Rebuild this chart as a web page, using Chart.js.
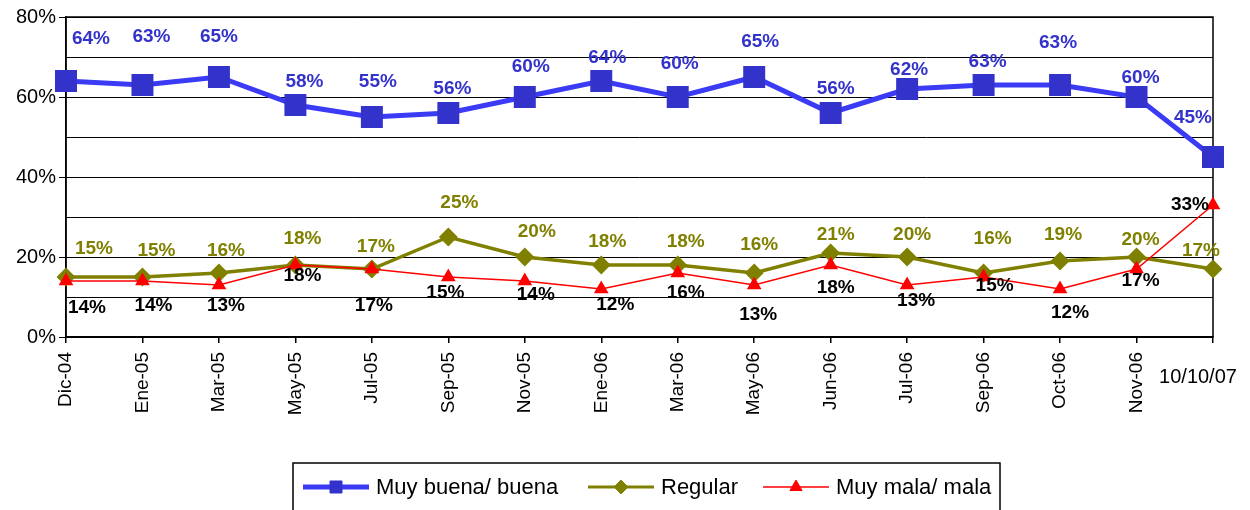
<!DOCTYPE html>
<html>
<head>
<meta charset="utf-8">
<script src="https://cdn.jsdelivr.net/npm/chart.js@4.4.1/dist/chart.umd.min.js"></script>
<style>
  body { margin: 0; background: #fff; }
</style>
</head>
<body>
<canvas id="lineChart" width="1250" height="510"></canvas>
<script>
// categories
const fechas = ["Dic-04", "Ene-05", "Mar-05", "May-05", "Jul-05", "Sep-05", "Nov-05", "Ene-06",
    "Mar-06", "May-06", "Jun-06", "Jul-06", "Sep-06", "Oct-06", "Nov-06", "10/10/07"]

// series values (%)
const muyBuena = [64, 63, 65, 58, 55, 56, 60, 64, 60, 65, 56, 62, 63, 63, 60, 45]
const regular = [15, 15, 16, 18, 17, 25, 20, 18, 18, 16, 21, 20, 16, 19, 20, 17]
const muyMala = [14, 14, 13, 18, 17, 15, 14, 12, 16, 13, 18, 13, 15, 12, 17, 33]

// y tick labels
const yTicks = [0, 20, 40, 60, 80]

// label nudges (px from the point), like excel placed them
const dxBuena = [25, 9, 0, 9, 6, 4, 6, 6, 2, 6, 5, 2, 4, -2, 4, -20]
const dyBuena = [-42, -48, -40, -23, -35, -24, -30, -23, -33, -35, -24, -19, -23, -42, -19, -39]
const dxRegular = [28, 14, 7, 7, 4, 11, 12, 6, 8, 5, 5, 5, 9, 3, 4, -12]
const dyRegular = [-28, -26, -22, -26, -22, -34, -25, -23, -23, -28, -18, -22, -34, -26, -17, -18]
const dxMala = [21, 11, 7, 7, 2, -3, 11, 14, 8, 4, 5, 9, 11, 10, 4, -23]
const dyMala = [27, 25, 21, 11, 37, 16, 14, 16, 20, 30, 23, 16, 9, 24, 12, 0]

const FONT = "'Liberation Sans', Arial, sans-serif"

const valueLabels = {
    id: 'valueLabels',
    afterDatasetsDraw(chart) {
        const ctx = chart.ctx
        const nudges = [[dxBuena, dyBuena], [dxRegular, dyRegular], [dxMala, dyMala]]
        const colors = ["#3333CC", "#808000", "#000000"]
        ctx.save()
        ctx.font = "bold 19px " + FONT
        ctx.textAlign = "center"
        ctx.textBaseline = "middle"
        chart.data.datasets.forEach((ds, i) => {
            const meta = chart.getDatasetMeta(i)
            ctx.fillStyle = colors[i]
            meta.data.forEach((pt, j) => {
                ctx.fillText(ds.data[j] + "%", pt.x + nudges[i][0][j], pt.y + nudges[i][1][j])
            })
        })
        ctx.restore()
    }
}

const frame = {
    id: 'frame',
    beforeDatasetsDraw(chart) {
        const {ctx, chartArea: a} = chart
        ctx.save()
        ctx.strokeStyle = "#000"
        ctx.lineWidth = 1.5
        ctx.strokeRect(a.left, a.top, a.right - a.left, a.bottom - a.top)
        ctx.restore()
    },
    afterDraw(chart) {
        const ctx = chart.ctx
        const xs = chart.scales.x
        ctx.save()
        // last category is written flat, like the original
        ctx.fillStyle = "#000"
        ctx.font = "20px " + FONT
        ctx.textAlign = "center"
        ctx.textBaseline = "middle"
        ctx.fillText(fechas[fechas.length - 1], xs.getPixelForValue(fechas.length - 1) - 15, 377)

        // legend
        ctx.strokeStyle = "#000"
        ctx.lineWidth = 1.5
        ctx.strokeRect(293, 463, 707, 60)
        const items = [
            {x: 303, color: "#3b3bf5", mark: "#3333CC", lw: 5, style: "rect", r: 8.5, text: "Muy buena/ buena"},
            {x: 588, color: "#808000", mark: "#808000", lw: 3, style: "rectRot", r: 7, text: "Regular"},
            {x: 763, color: "#FF0000", mark: "#FF0000", lw: 1.5, style: "triangle", r: 7, text: "Muy mala/ mala"}
        ]
        const y = 487
        ctx.font = "22px " + FONT
        ctx.textAlign = "left"
        items.forEach(it => {
            ctx.strokeStyle = it.color
            ctx.lineWidth = it.lw
            ctx.beginPath()
            ctx.moveTo(it.x, y)
            ctx.lineTo(it.x + 66, y)
            ctx.stroke()
            ctx.fillStyle = it.mark
            ctx.strokeStyle = it.mark
            ctx.lineWidth = 1
            Chart.helpers.drawPoint(ctx, {pointStyle: it.style, radius: it.r, borderWidth: 1, rotation: 0}, it.x + 33, y)
            ctx.fillStyle = "#000"
            ctx.fillText(it.text, it.x + 73, y + 1)
        })
        ctx.restore()
    }
}

new Chart("lineChart", {
    type: "line",
    data: {
        labels: fechas,
        datasets: [{
                label: "Muy buena/ buena",
                data: muyBuena,
                borderColor: "#3b3bf5",
                backgroundColor: "#3333CC",
                pointBorderColor: "#3333CC",
                borderWidth: 5,
                pointStyle: "rect",
                pointRadius: 12,
                pointHoverRadius: 12,
                lineTension: 0,
                fill: false,
                order: 2
            }, {
                label: "Regular",
                data: regular,
                borderColor: "#808000",
                backgroundColor: "#808000",
                borderWidth: 3.5,
                pointStyle: "rectRot",
                pointRadius: 7,
                pointHoverRadius: 7,
                lineTension: 0,
                fill: false,
                order: 1
            }, {
                label: "Muy mala/ mala",
                data: muyMala,
                borderColor: "#FF0000",
                backgroundColor: "#FF0000",
                borderWidth: 1.5,
                pointStyle: "triangle",
                pointRadius: 7,
                pointHoverRadius: 7,
                lineTension: 0,
                fill: false,
                order: 0
            }]
    },
    options: {
        responsive: false,
        animation: false,
        layout: {padding: {top: 16, right: 37, left: 0, bottom: 0}},
        plugins: {
            legend: {display: false},
            tooltip: {enabled: false}
        },
        scales: {
            x: {
                offset: false,
                grid: {drawOnChartArea: false, color: "#000", tickLength: 6, lineWidth: 1.5},
                border: {color: "#000", width: 1.5},
                ticks: {
                    autoSkip: false,
                    minRotation: 90,
                    maxRotation: 90,
                    padding: 9,
                    color: "#000",
                    font: {family: FONT, size: 19},
                    callback: (v, i) => i === fechas.length - 1 ? "" : fechas[i]
                },
                afterFit: (s) => { s.height = 173 }
            },
            y: {
                min: 0,
                max: 80,
                grid: {
                    color: "#000",
                    lineWidth: 1,
                    tickLength: 7,
                    tickColor: (c) => yTicks.includes(c.tick.value) ? "#000" : "rgba(0,0,0,0)"
                },
                border: {color: "#000", width: 1.5},
                ticks: {
                    stepSize: 10,
                    padding: 3,
                    color: "#000",
                    font: {family: FONT, size: 20},
                    callback: (v) => yTicks.includes(v) ? v + "%" : ""
                },
                afterFit: (s) => { s.width = 66 }
            }
        }
    },
    plugins: [frame, valueLabels]
});
</script>
</body>
</html>
